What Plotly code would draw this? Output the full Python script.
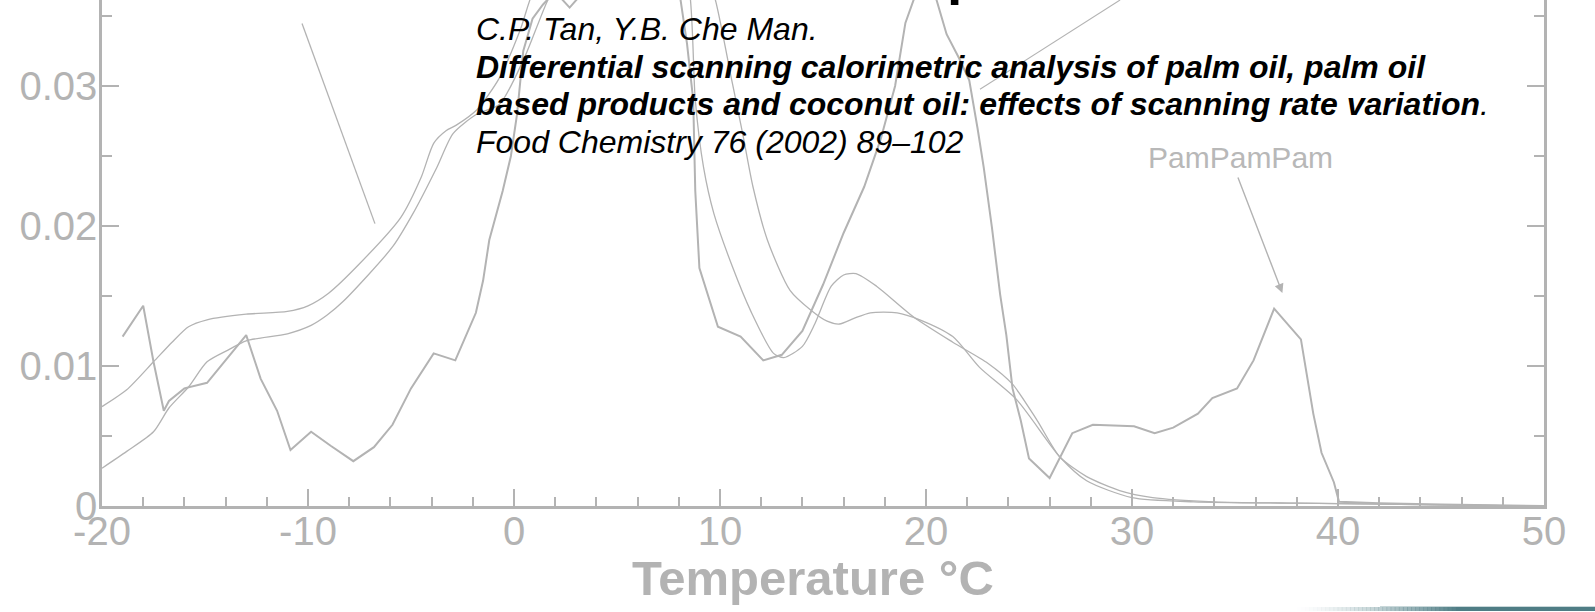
import plotly.graph_objects as go

# ---- DSC melting curves (heat flow vs temperature) ----
# Sample measured at the slowest scanning rate (jagged trace)
pam_t = [-19.0, -18.0, -17.5, -17.0, -16.75, -16.0, -14.9, -13.0, -12.3, -11.5, -10.85,
         -9.85, -8.9, -7.8, -6.8, -5.9, -5.0, -3.9, -2.85, -2.3, -1.85, -1.5, -1.2, -0.55,
         -0.15, 0.15, 0.45, 0.9, 1.4, 1.9, 2.2, 2.7, 3.3, 4.0, 5.5, 7.0, 7.8, 8.4, 8.7,
         8.8, 8.9, 9.0, 9.9, 11.0, 12.1, 13.0, 14.0, 15.0, 16.0, 17.0, 17.8, 18.5, 19.0,
         19.8, 20.5, 21.0, 21.6, 22.1, 22.5, 22.8, 23.2, 23.6, 23.9, 24.2, 24.6, 25.0,
         26.0, 27.1, 28.1, 30.1, 31.1, 32.0, 33.2, 33.9, 35.1, 35.9, 36.9, 38.0, 38.2,
         38.8, 39.2, 39.8, 40.05, 42.0, 45.0, 50.0]
pam_v = [0.0121, 0.0143, 0.0103, 0.0068, 0.0075, 0.0084, 0.0088, 0.0122, 0.0091, 0.0068,
         0.0040, 0.0053, 0.0043, 0.0032, 0.0042, 0.0058, 0.0084, 0.0109, 0.0104, 0.0122,
         0.0138, 0.0161, 0.0190, 0.0225, 0.0250, 0.0280, 0.0325, 0.0348, 0.0358, 0.0366,
         0.0364, 0.0356, 0.0366, 0.0385, 0.0410, 0.0405, 0.0390, 0.0330, 0.0290, 0.0225,
         0.0199, 0.0170, 0.0128, 0.0121, 0.0104, 0.0108, 0.0125, 0.0158, 0.0195, 0.0228,
         0.0262, 0.0300, 0.0345, 0.0378, 0.0362, 0.0337, 0.0320, 0.0304, 0.0270, 0.0242,
         0.0199, 0.0151, 0.0122, 0.0084, 0.0061, 0.0034, 0.0020, 0.0052, 0.0058, 0.0057,
         0.0052, 0.0056, 0.0066, 0.0077, 0.0084, 0.0104, 0.0141, 0.0122, 0.0119, 0.0066,
         0.0038, 0.0017, 0.0003, 0.0002, 0.0001, 0.0]

# Smooth trace, faster scanning rate (upper branch at low temperature)
fast_t = [-20.0, -18.8, -17.5, -16.6, -15.8, -14.9, -13.0, -11.0, -10.0, -9.0, -7.5, -5.5,
          -4.5, -3.9, -3.3, -2.8, -1.8, -0.7, 0.3, 1.0, 2.5, 5.0, 7.5, 8.5, 8.8, 9.2, 9.7,
          10.6, 11.5, 12.6, 13.1, 14.0, 14.6, 15.4, 16.0, 16.6, 17.6, 19.4, 21.3, 23.0,
          24.2, 25.4, 26.5, 27.8, 29.4, 31.0, 34.0, 38.0, 44.0, 50.0]
fast_v = [0.0071, 0.0083, 0.0103, 0.0117, 0.0128, 0.0133, 0.0137, 0.0139, 0.0143, 0.0152,
          0.0173, 0.0206, 0.0235, 0.0259, 0.0268, 0.0272, 0.0283, 0.0306, 0.0340, 0.0370,
          0.0400, 0.0450, 0.0420, 0.0370, 0.0290, 0.0242, 0.0209, 0.0171, 0.0139, 0.0109,
          0.0106, 0.0114, 0.0130, 0.0157, 0.0165, 0.0166, 0.0157, 0.0135, 0.0117, 0.0102,
          0.0087, 0.0061, 0.0035, 0.0021, 0.0011, 0.0006, 0.0003, 0.0002, 0.0001, 0.0]

# Smooth trace, intermediate scanning rate (lower branch at low temperature)
mid_t = [-20.0, -18.8, -17.5, -16.75, -15.8, -14.9, -13.8, -13.0, -11.0, -9.85, -9.1, -8.3,
         -5.9, -4.9, -3.74, -2.96, -1.8, -0.7, 0.5, 1.6, 3.0, 6.0, 9.0, 9.8, 10.6, 11.1,
         11.6, 12.3, 13.4, 14.4, 15.2, 15.8, 16.5, 17.3, 18.6, 19.7, 21.3, 22.6, 24.4,
         26.5, 27.8, 30.0, 33.0, 38.0, 44.0, 50.0]
mid_v = [0.0027, 0.0039, 0.0053, 0.0070, 0.0085, 0.0103, 0.0112, 0.0118, 0.0123, 0.0129,
         0.0136, 0.0146, 0.0185, 0.0209, 0.0242, 0.0266, 0.0280, 0.0287, 0.0320, 0.0360,
         0.0400, 0.0450, 0.0400, 0.0360, 0.0302, 0.0266, 0.0228, 0.0190, 0.0154, 0.0140,
         0.0132, 0.0130, 0.0134, 0.0138, 0.0138, 0.0133, 0.0121, 0.0099, 0.0076, 0.0035,
         0.0018, 0.0006, 0.0003, 0.0002, 0.0001, 0.0]

# Axis ticks
x_ticks = [-20, -10, 0, 10, 20, 30, 40, 50]
x_tick_text = ["-20", "-10", "0", "10", "20", "30", "40", "50"]
y_ticks = [0, 0.01, 0.02, 0.03]
y_tick_text = ["0", "0.01", "0.02", "0.03"]

# Citation lines shown over the plot
citation = [
    "<i>C.P. Tan, Y.B. Che Man.</i>",
    "<b><i>Differential scanning calorimetric analysis of palm oil, palm oil</i></b>",
    "<b><i>based products and coconut oil: effects of scanning rate variation</i></b><i>.</i>",
    "<i>Food Chemistry 76 (2002) 89\u2013102</i>",
]

GRAY = "#b3b3b3"
FONT = "Liberation Sans, Arial, sans-serif"

W, H = 1595, 612
ML, MR, MT, MB = 102, 51, 0, 106
PW, PH = W - ML - MR, H - MT - MB


def px(x):
    return (x - ML) / PW


def py(y):
    return (PH + MT - y) / PH


fig = go.Figure()

fig.add_trace(go.Scatter(x=fast_t, y=fast_v, mode="lines",
                         line=dict(color=GRAY, width=1.3, shape="spline", smoothing=0.7),
                         hoverinfo="skip", showlegend=False))
fig.add_trace(go.Scatter(x=mid_t, y=mid_v, mode="lines",
                         line=dict(color=GRAY, width=1.3, shape="spline", smoothing=0.7),
                         hoverinfo="skip", showlegend=False))
fig.add_trace(go.Scatter(x=pam_t, y=pam_v, mode="lines",
                         line=dict(color=GRAY, width=2),
                         hoverinfo="skip", showlegend=False))

# pointer lines from the labels above the plot
fig.add_shape(type="line", x0=-10.29, y0=0.03446, x1=-6.75, y1=0.02017,
              xref="x", yref="y", line=dict(color=GRAY, width=1.3))
fig.add_shape(type="line", x0=22.62, y0=0.02976, x1=29.42, y1=0.03614,
              xref="x", yref="y", line=dict(color=GRAY, width=1.1))

annotations = []
# citation block
for i, line in enumerate(citation):
    annotations.append(dict(text=line, x=px(474), y=py(29 + 37.5 * i), xref="paper", yref="paper",
                            xanchor="left", yanchor="middle", showarrow=False,
                            font=dict(family=FONT, size=32, color="black")))

# bottom of the headline above the plot
annotations.append(dict(text="<b>p</b>", x=px(945), y=py(6.5), xref="paper", yref="paper",
                        xanchor="left", yanchor="bottom", showarrow=False,
                        font=dict(family=FONT, size=55, color="black")))

# peak label with its arrow
annotations.append(dict(text="PamPamPam", x=px(1240), y=py(157), xref="paper", yref="paper",
                        xanchor="center", yanchor="middle", showarrow=False,
                        font=dict(family=FONT, size=30, color="#b8b8b8")))
annotations.append(dict(text="", x=37.3, y=(PH - 293) / PH * 0.03614, xref="x", yref="y",
                        showarrow=True, arrowhead=2, arrowsize=1.3, arrowwidth=1.4,
                        arrowcolor=GRAY, ax=1239 - 1284, ay=176 - 293))

# axis title
annotations.append(dict(text="<b>Temperature \u00b0C</b>", x=px(813), y=py(578), xref="paper",
                        yref="paper", xanchor="center", yanchor="middle", showarrow=False,
                        font=dict(family=FONT, size=49, color=GRAY)))

# fading accent bar in the bottom-right corner
shapes = []
n_steps = 40
x_start, x_solid = 1297, 1460
for k in range(n_steps):
    a = (k + 1) / n_steps
    x0 = x_start + (x_solid - x_start) * k / n_steps
    x1 = x_start + (x_solid - x_start) * (k + 1) / n_steps + 0.5
    shapes.append(dict(type="rect", xref="paper", yref="paper", x0=px(x0), x1=px(x1),
                       y0=py(611), y1=py(607), line=dict(width=0),
                       fillcolor="#4f7d85", opacity=a ** 1.5))
shapes.append(dict(type="rect", xref="paper", yref="paper", x0=px(x_solid), x1=px(W + 2),
                   y0=py(611), y1=py(607), line=dict(width=0), fillcolor="#4f7d85"))
shapes.append(dict(type="rect", xref="paper", yref="paper", x0=px(1380), x1=px(W + 2),
                   y0=py(607), y1=py(606), line=dict(width=0), fillcolor="#c9d8da"))
for s in shapes:
    fig.add_shape(**s)

fig.update_layout(
    width=W, height=H,
    margin=dict(l=ML, r=MR, t=MT, b=MB, pad=0),
    paper_bgcolor="white", plot_bgcolor="white",
    showlegend=False,
    annotations=annotations,
    font=dict(family=FONT, color=GRAY),
)

fig.update_xaxes(range=[-20, 50], tickvals=x_ticks, ticktext=x_tick_text,
                 ticks="inside", ticklen=17, tickwidth=2, tickcolor=GRAY,
                 minor=dict(dtick=2, ticks="inside", ticklen=9, tickwidth=2, tickcolor=GRAY),
                 showline=True, linewidth=3, linecolor=GRAY, mirror=False,
                 showgrid=False, zeroline=False,
                 tickfont=dict(family=FONT, size=40, color=GRAY), ticklabelstandoff=-12)
fig.update_yaxes(range=[0, 0.03614], tickvals=y_ticks, ticktext=y_tick_text,
                 ticks="inside", ticklen=17, tickwidth=2, tickcolor=GRAY,
                 minor=dict(dtick=0.005, ticks="inside", ticklen=10, tickwidth=2, tickcolor=GRAY),
                 showline=True, linewidth=2.5, linecolor=GRAY, mirror="ticks",
                 showgrid=False, zeroline=False,
                 tickfont=dict(family=FONT, size=40, color=GRAY), ticklabelstandoff=-6)

fig.write_html("out.html")
